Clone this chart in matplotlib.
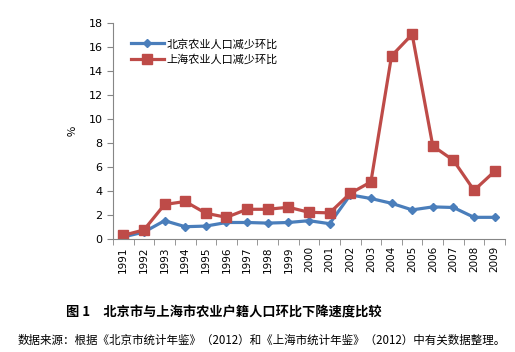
import matplotlib
matplotlib.use("Agg")
import matplotlib.pyplot as plt
import numpy as np

plt.rcParams['font.family'] = ['Noto Sans CJK SC', 'DejaVu Sans']

years = [str(y) for y in range(1991, 2010)]
beijing = [0.2, 0.6, 1.55, 1.05, 1.1, 1.4, 1.4, 1.35, 1.4, 1.55, 1.3,
           3.7, 3.4, 3.0, 2.45, 2.7, 2.65, 1.83, 1.83]
shanghai = [0.33, 0.78, 2.9, 3.15, 2.17, 1.83, 2.5, 2.5, 2.67, 2.25, 2.2,
            3.83, 4.78, 15.28, 17.08, 7.78, 6.58, 4.08, 5.67]
label_bj = '北京农业人口减少环比'
label_sh = '上海农业人口减少环比'
yticks = list(range(0, 19, 2))

fig = plt.figure(figsize=(5.15, 3.52), dpi=100)
ax = fig.add_axes([0.2194, 0.3202, 0.7612, 0.6136])
x = np.arange(len(years))
ax.plot(x, beijing, color='#4A7EBB', lw=2.3, marker='D', ms=4.5, label=label_bj)
ax.plot(x, shanghai, color='#BE4B48', lw=2.3, marker='s', ms=6.5, label=label_sh)

ax.set_xlim(-0.5, len(years) - 0.5)
ax.set_ylim(0, 18)
ax.set_yticks(yticks)
ax.set_yticklabels([str(v) for v in yticks], fontsize=8, family='DejaVu Sans')
ax.set_xticks(x)
ax.set_xticklabels(years, rotation=90, fontsize=7.5, family='DejaVu Sans')
ax.set_xticks(np.arange(-0.5, len(years)), minor=True)
ax.tick_params(axis='x', which='major', length=0, pad=5)
ax.tick_params(axis='x', which='minor', length=4, color='#868686')
ax.tick_params(axis='y', length=4, color='#868686')
for s in ['top', 'right']:
    ax.spines[s].set_visible(False)
for s in ['left', 'bottom']:
    ax.spines[s].set_color('#868686')
ax.set_ylabel('%', fontsize=8, rotation=90, labelpad=8)

ax.legend(loc='upper left', bbox_to_anchor=(0.02, 0.975), frameon=False,
          fontsize=8, handlelength=3, handletextpad=0.2, labelspacing=0.45)

fig.text(0.435, 0.111, '图 1　北京市与上海市农业户籍人口环比下降速度比较',
         ha='center', va='center', fontsize=9.5, fontweight='bold')
fig.text(0.508, 0.034, '数据来源：根据《北京市统计年鉴》（2012）和《上海市统计年鉴》（2012）中有关数据整理。',
         ha='center', va='center', fontsize=8.3)

fig.savefig('out.png', dpi=100, facecolor='white')
